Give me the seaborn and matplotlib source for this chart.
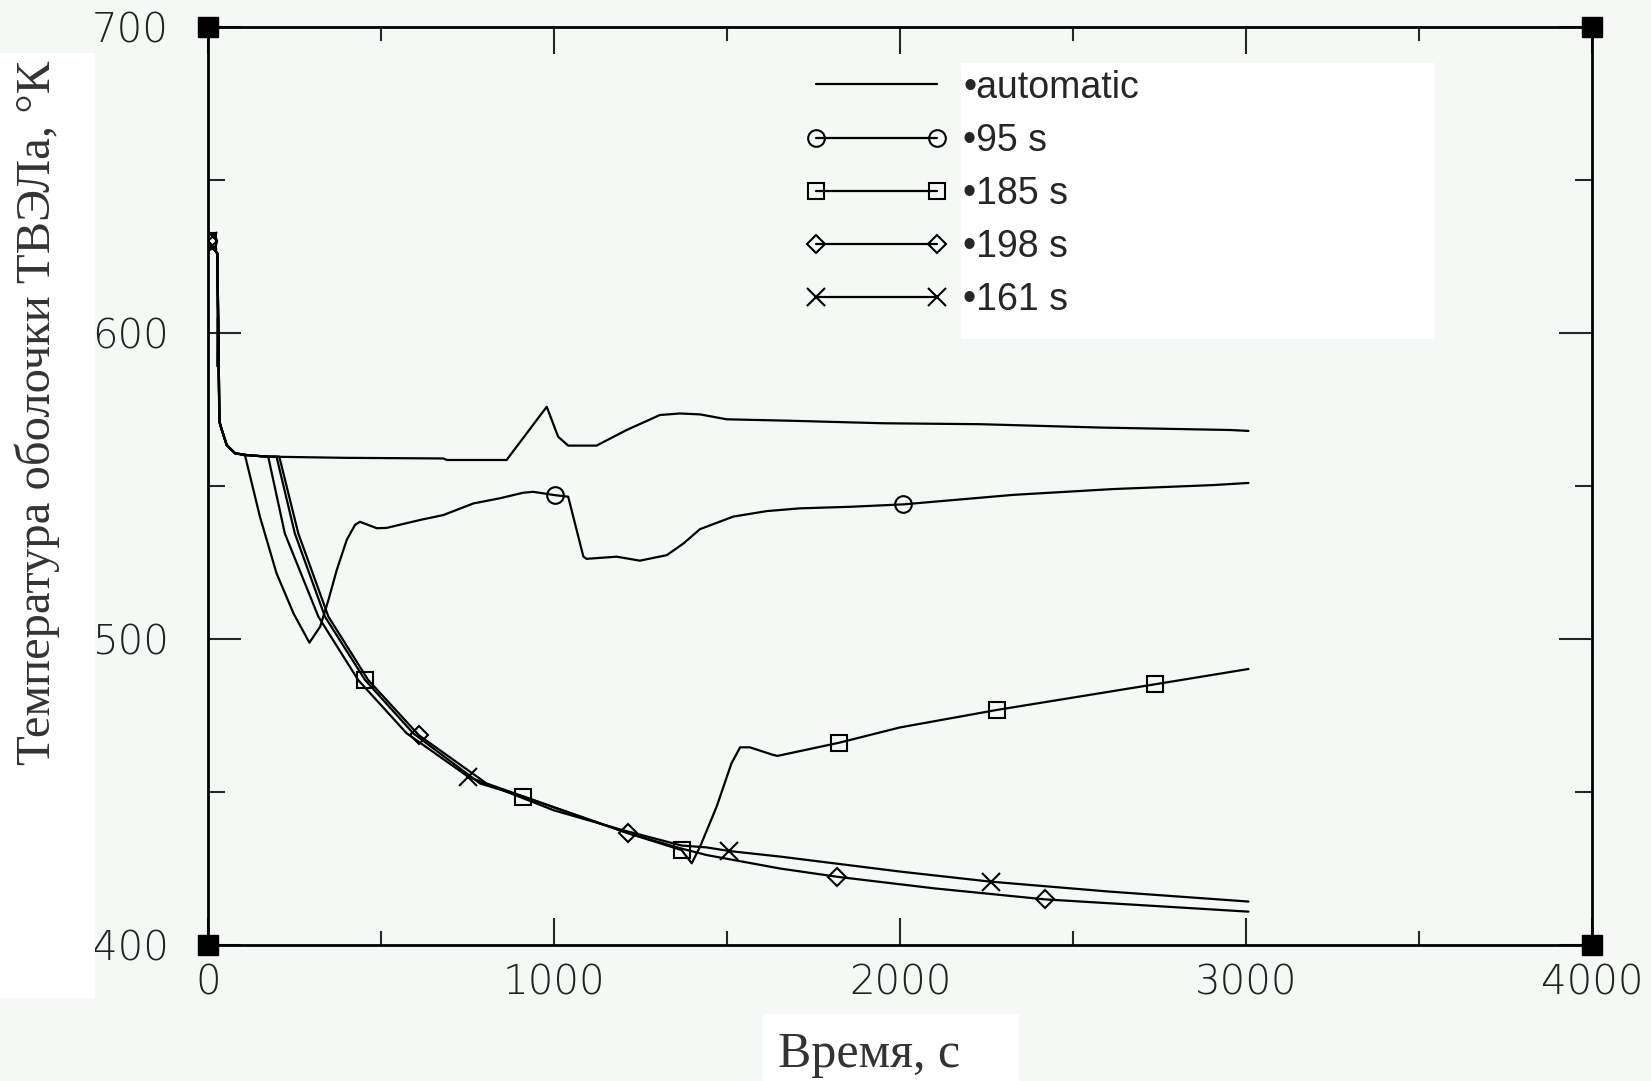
import numpy as np
import pandas as pd
import matplotlib
matplotlib.use("Agg")
import matplotlib.pyplot as plt
import seaborn as sns
from matplotlib.patches import Rectangle
from matplotlib.ticker import MultipleLocator

# ---------------- data ----------------
t_auto = [0, 23, 27, 28, 29, 30, 33, 40, 54, 78, 112, 170, 400, 680, 690, 863, 921,
          979, 1012, 1041, 1123, 1210, 1306, 1364, 1422, 1499, 1692, 1952, 2231, 2578,
          2954, 3007]
T_auto = [630, 626.6, 626, 589, 605, 590, 571, 568.3, 563.4, 560.7, 560.1, 559.6, 559.2,
          559.0, 558.5, 558.5, 567.2, 575.9, 566.1, 563.2, 563.2, 568.3, 573.2, 573.7,
          573.4, 571.8, 571.3, 570.5, 570.2, 569.1, 568.3, 568.0]

t_95 = [0, 23, 27, 30, 33, 40, 54, 78, 107, 150, 198, 247, 293, 324, 348, 372, 401, 425,
        439, 488, 516, 613, 680, 767, 844, 911, 940, 1003, 1041, 1085, 1094, 1181, 1248,
        1326, 1374, 1422, 1518, 1615, 1711, 1855, 2010, 2327, 2616, 2905, 3007]
T_95 = [630, 626.6, 626, 600, 571, 568.3, 563.4, 560.7, 560, 540, 521.5, 508.4, 498.8,
        504, 512.7, 522.5, 532.4, 537.3, 538.3, 536.2, 536.3, 538.9, 540.5, 544.3, 546,
        547.8, 548.1, 547, 546.5, 526.9, 526.2, 526.9, 525.6, 527.4, 531.2, 535.9, 540,
        541.8, 542.7, 543.2, 544, 547.1, 549.0, 550.3, 551]
mk_95 = [0, 1003, 2010]

t_185 = [0, 23, 27, 30, 33, 40, 54, 78, 112, 170, 198, 251, 338, 454, 593, 786, 911, 1050,
         1215, 1369, 1398, 1422, 1470, 1513, 1538, 1566, 1634, 1646, 1824, 2000, 2279,
         2737, 3007]
T_185 = [630, 626.6, 626, 600, 571, 568.3, 563.4, 560.7, 560.1, 559.6, 559.6, 534.5,
         507.3, 486.6, 469.2, 452.8, 448.5, 443, 436.5, 431, 426.7, 432.1, 445.2, 459.4,
         464.6, 464.6, 462.1, 461.8, 466.1, 471.1, 476.8, 485.2, 490.2]
mk_185 = [0, 454, 911, 1369, 1824, 2279, 2737]

t_198 = [0, 23, 27, 30, 33, 40, 54, 78, 112, 170, 206, 261, 348, 463, 610, 805, 1000,
         1215, 1369, 1441, 1653, 1818, 2100, 2420, 2700, 3007]
T_198 = [630, 626.6, 626, 600, 571, 568.3, 563.4, 560.7, 560.1, 559.6, 559.6, 534.5,
         507.3, 486.6, 468.5, 452.8, 445, 436.5, 431.5, 429.4, 425.0, 422.3, 418.5, 414.9,
         413, 410.9]
mk_198 = [0, 610, 1215, 1818, 2420]

t_161 = [0, 23, 27, 30, 33, 40, 54, 78, 112, 170, 174, 222, 319, 434, 574, 752, 1000,
         1200, 1369, 1441, 1507, 1653, 2000, 2262, 2600, 3007]
T_161 = [630, 626.6, 626, 600, 571, 568.3, 563.4, 560.7, 560.1, 559.6, 559.6, 534.5,
         507.3, 486.6, 469.2, 455, 444, 437.5, 432.5, 431.9, 430.7, 428.9, 424, 420.7,
         417.5, 414.2]
mk_161 = [0, 752, 1507, 2262]

labels = ["\u2022automatic", "\u202295 s", "\u2022185 s", "\u2022198 s", "\u2022161 s"]
x_ticks = [0, 1000, 2000, 3000, 4000]
y_ticks = [400, 500, 600, 700]
xlabel = "Время, с"
ylabel = "Температура оболочки ТВЭЛа, °К"

# ---------------- style ----------------
sns.set_theme(style="ticks")
BG = "#F4F9F6"
plt.rcParams["font.family"] = ["DejaVu Sans"]

W, H = 1651, 1081
fig = plt.figure(figsize=(W / 100, H / 100), dpi=100, facecolor=BG)
ax = fig.add_axes([208 / W, 1 - 945 / H, (1592 - 208) / W, (945 - 27) / H])
ax.set_facecolor(BG)

# white boxes (y label, x label, legend text)
fig.patches.append(Rectangle((0, 1 - 998 / H), 95 / W, (998 - 53) / H,
                             transform=fig.transFigure, facecolor="white",
                             edgecolor="none", zorder=0))
fig.patches.append(Rectangle((763 / W, 0), (1019 - 763) / W, (1081 - 1014) / H,
                             transform=fig.transFigure, facecolor="white",
                             edgecolor="none", zorder=0))
ax.add_patch(Rectangle((961 / W, 1 - 339 / H), (1435 - 961) / W, (339 - 63) / H,
                       transform=fig.transFigure, facecolor="white",
                       edgecolor="none", zorder=0.5))

series = [
    (t_auto, T_auto, None, None, labels[0]),
    (t_95, T_95, "o", mk_95, labels[1]),
    (t_185, T_185, "s", mk_185, labels[2]),
    (t_198, T_198, "D", mk_198, labels[3]),
    (t_161, T_161, "x", mk_161, labels[4]),
]
msizes = {"o": 12, "s": 11, "D": 9.5, "x": 13}
handles = []
for tt, TT, mk, mkt, lab in series:
    df = pd.DataFrame({"t": tt, "T": TT})
    kw = dict(color="black", linewidth=1.6, sort=False, estimator=None, ax=ax,
              label=lab, legend=False)
    if mk is not None:
        idx = [i for i, v in enumerate(tt) if v in mkt]
        kw.update(marker=mk, markevery=idx, markersize=msizes[mk],
                  markerfacecolor="none", markeredgecolor="black",
                  markeredgewidth=1.5)
    sns.lineplot(data=df, x="t", y="T", **kw)
    handles.append(ax.get_lines()[-1])

ax.set_xlim(0, 4000)
ax.set_ylim(400, 700)
ax.set_xticks(x_ticks)
ax.set_yticks(y_ticks)
ax.xaxis.set_minor_locator(MultipleLocator(500))
ax.yaxis.set_minor_locator(MultipleLocator(50))
for s in ax.spines.values():
    s.set_visible(True)
    s.set_linewidth(2)
    s.set_color("black")
ax.tick_params(axis="x", which="major", direction="in", length=19.5, width=1.5,
               top=True, bottom=True, pad=13, labelsize=29, labelcolor="#222222")
ax.tick_params(axis="x", which="minor", direction="in", length=10, width=1.5,
               top=True, bottom=True)
ax.tick_params(axis="y", which="major", direction="in", length=24, width=1.5,
               left=True, right=True, pad=28, labelsize=29, labelcolor="#222222")
ax.tick_params(axis="y", which="minor", direction="in", length=12, width=1.5,
               left=True, right=True)
for lab in ax.get_xticklabels() + ax.get_yticklabels():
    lab.set_fontweight("light")
ax.set_xlabel("")
ax.set_ylabel("")

# corner black squares
for cx, cy in [(0, 0), (0, 1), (1, 0), (1, 1)]:
    ax.plot([cx], [cy], marker="s", markersize=14, color="black",
            transform=ax.transAxes, clip_on=False, zorder=5)

fig.text(37 / W, 1 - 413 / H, ylabel, rotation=90, ha="center", va="center",
         fontsize=35, family=["Liberation Serif", "DejaVu Serif"], color="#333333")
fig.text(869 / W, 1 - 1055 / H, xlabel, ha="center", va="center",
         fontsize=36, family=["Liberation Serif", "DejaVu Serif"], color="#333333")

leg = ax.legend(handles=handles, labels=labels, loc="upper left",
                bbox_to_anchor=(805 / W, 1 - 69.5 / H), bbox_transform=fig.transFigure,
                frameon=False, numpoints=2, handlelength=3.83, handletextpad=0.39,
                labelspacing=0.46, borderpad=0, borderaxespad=0,
                prop={"family": ["Liberation Sans", "DejaVu Sans"], "size": 27})

fig.savefig("out.png", dpi=100, facecolor=BG)
